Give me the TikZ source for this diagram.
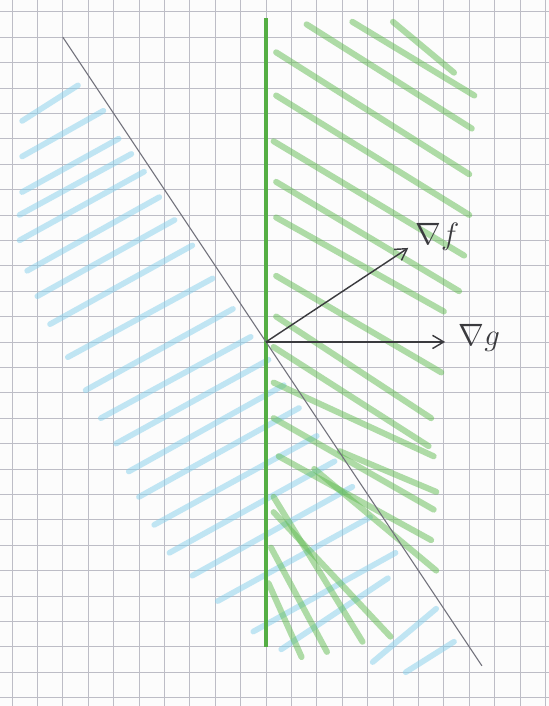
\documentclass[tikz,border=0pt]{standalone}
\usepackage{tikz}
\usetikzlibrary{arrows.meta}
\definecolor{paper}{HTML}{FCFCFC}
\definecolor{gridgray}{HTML}{BDBDC6}
\definecolor{leafgreen}{HTML}{62BC52}
\definecolor{linegreen}{HTML}{55AE44}
\definecolor{skyblue}{HTML}{86D0EC}
\definecolor{pencilgray}{HTML}{74747E}
\definecolor{ink}{HTML}{3A3A3E}
\tikzset{
  gridline/.style={draw=gridgray,line width=0.4pt},
  hatchgreen/.style={draw=leafgreen,line width=3.4pt,line cap=round,opacity=0.5},
  hatchblue/.style={draw=skyblue,line width=3.2pt,line cap=round,opacity=0.5},
  border/.style={draw=linegreen,line width=2.2pt},
  pencil/.style={draw=pencilgray,line width=0.6pt},
  grad/.style={-{Straight Barb[length=2.2mm,width=2.6mm]},draw=ink,line width=0.8pt},
  glabel/.style={font=\LARGE,text=ink,inner sep=1pt},
}

\begin{document}
\begin{tikzpicture}[x=0.5cm,y=0.5cm]
  \fill[paper] (-10.47,-14.33) rectangle (11.14,13.46);
  \useasboundingbox (-10.47,-14.33) rectangle (11.14,13.46);
  % squared paper
  \foreach \i in {-10,...,11}
    \draw[gridline] (\i,-14.33) -- (\i,13.46);
  \foreach \j in {-14,...,13}
    \draw[gridline] (-10.47,\j) -- (11.14,\j);
  % blue hatching, left of the slanted line
  \foreach \a/\b/\c/\d in {-9.6/8.7/-7.4/10.1, -9.6/7.3/-6.4/9.1, -9.6/5.9/-5.8/8.0,
      -9.7/5.0/-5.3/7.4, -9.7/4.0/-4.8/6.7, -9.4/2.8/-4.2/5.7, -9.0/1.8/-3.6/4.8,
      -8.5/0.7/-2.9/3.8, -7.8/-0.6/-2.1/2.5, -7.1/-1.9/-1.3/1.3, -6.5/-3.0/-0.6/0.2,
      -5.9/-4.0/0.1/-0.7, -5.4/-5.1/0.7/-1.7, -5.0/-6.1/1.3/-2.6, -4.4/-7.2/2.0/-3.7,
      -3.8/-8.3/2.7/-4.7, -2.9/-9.2/3.4/-5.7, -1.9/-10.2/4.1/-6.9, -0.5/-11.4/5.1/-8.3,
      0.6/-12.1/4.8/-9.3, 4.2/-12.6/6.7/-10.5, 5.5/-13.0/7.4/-11.8}
    \draw[hatchblue] (\a,\b) -- (\c,\d);
  % green hatching, right of the vertical line
  \foreach \a/\b/\c/\d in {1.6/12.5/8.1/8.4, 3.4/12.6/8.2/9.7, 5.0/12.6/7.4/10.6,
      0.4/11.4/8.0/6.6, 0.4/9.7/8.0/5.0, 0.3/7.9/7.8/3.4, 0.4/6.3/7.6/2.0,
      0.4/4.9/7.0/1.2, 0.4/2.6/6.9/-1.2, 0.4/1.0/6.5/-3.0, 0.3/-0.2/6.4/-4.1,
      0.3/-1.6/6.6/-4.5, 0.3/-3.0/6.6/-6.6, 0.5/-4.5/6.5/-7.8, 2.9/-4.3/6.7/-5.9,
      1.9/-5.0/6.7/-9.0, 0.3/-6.1/3.8/-11.8, 0.3/-6.7/4.9/-11.6, 0.2/-8.1/2.4/-12.2,
      0.1/-9.5/1.4/-12.4}
    \draw[hatchgreen] (\a,\b) -- (\c,\d);
  % the two constraint lines
  \coordinate (O) at (0,0);
  \coordinate (gtop) at (0,12.75);
  \coordinate (gbot) at (0,-12);
  \draw[border] (gtop) -- (gbot);
  \coordinate (lstart) at (-8,12);
  \coordinate (lend) at (8.5,-12.75);
  \draw[pencil] (lstart) -- (lend);
  % gradients
  \coordinate (ftip) at (5.6,3.7);
  \coordinate (gtip) at (7.05,0);
  \draw[grad] (O) -- (ftip);
  \draw[grad] (O) -- (gtip);
  \node[glabel] (gradf) at (6.75,4.15) {$\nabla f$};
  \node[glabel] (gradg) at (8.4,0.15) {$\nabla g$};
\end{tikzpicture}
\end{document}
